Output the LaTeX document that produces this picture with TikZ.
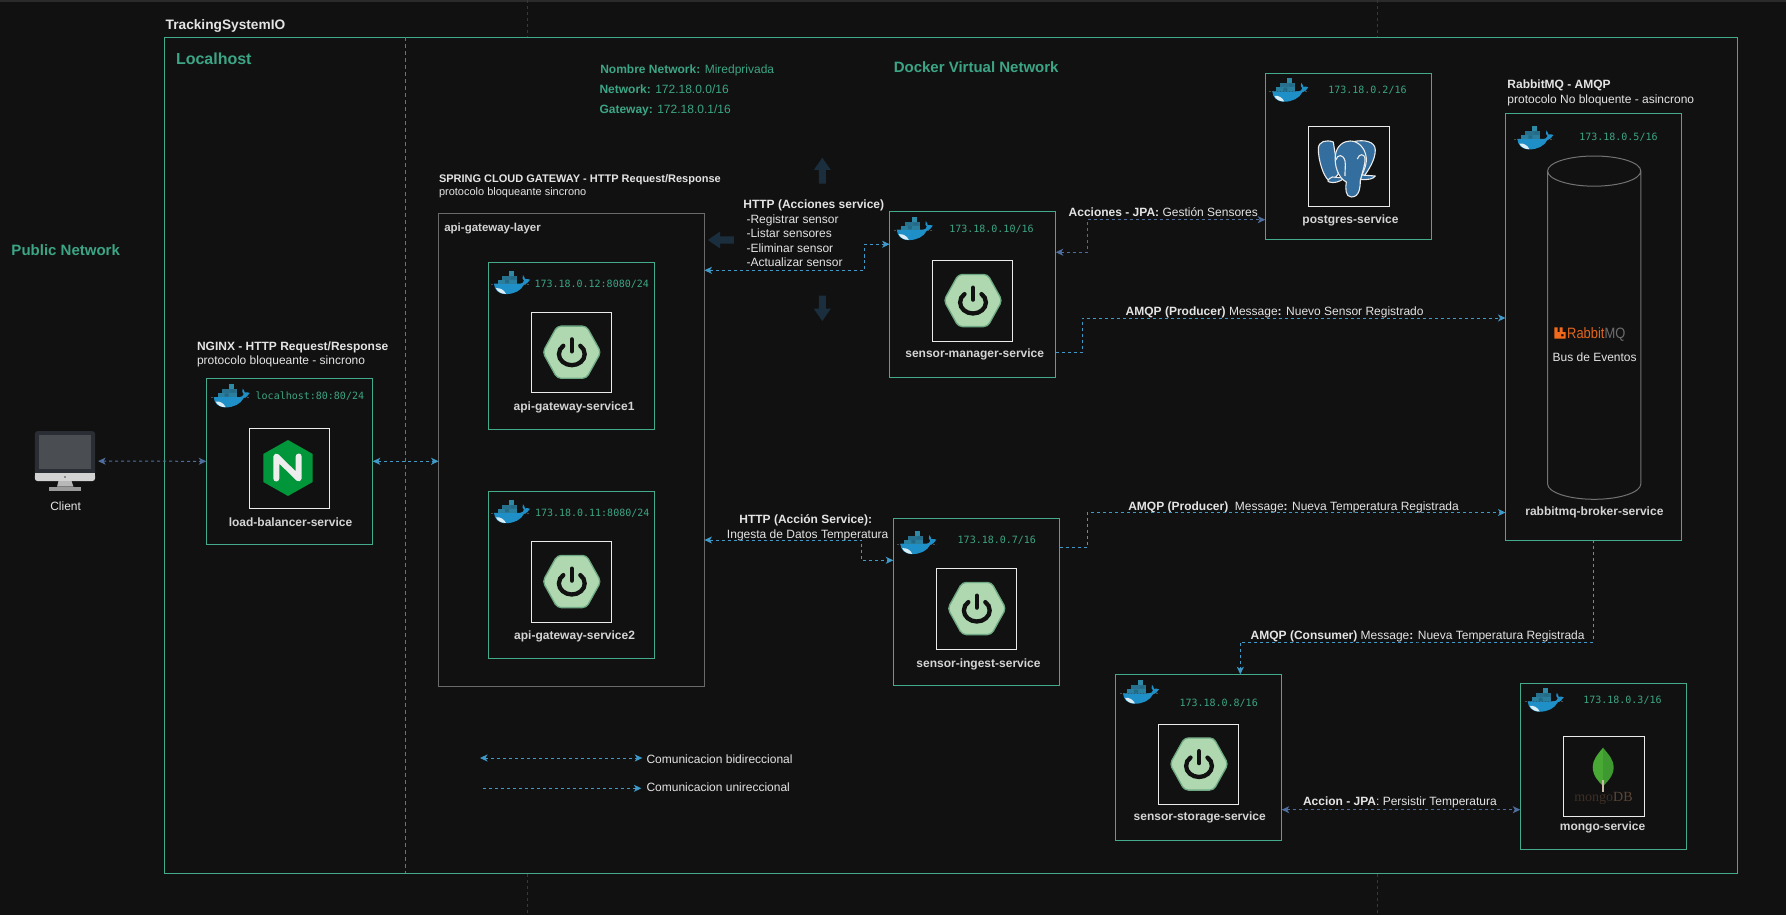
\documentclass[tikz,border=0pt]{standalone}
\usepackage{fontspec}
\setmainfont{Liberation Sans}
\newfontfamily\ipfont{DejaVu Sans Mono}
\newfontfamily\mgfont{Liberation Serif}
\usetikzlibrary{arrows.meta,calc}
\definecolor{bgc}{HTML}{111111}
\definecolor{grn}{HTML}{43AA8B}
\definecolor{grt}{HTML}{3CA585}
\definecolor{conn}{HTML}{3F9AC9}
\definecolor{slate}{HTML}{4F6E9E}
\definecolor{lblc}{HTML}{D4D4D4}
\definecolor{txtc}{HTML}{E4E4E4}
\definecolor{navy}{HTML}{1B2E3D}
\definecolor{whl}{HTML}{1F8FC7}
\definecolor{sprf}{HTML}{AFD8B0}
\definecolor{sprd}{HTML}{6FA983}
\definecolor{splitc}{HTML}{5E8A2C}
\definecolor{pgb}{HTML}{336E9E}
\definecolor{layerc}{HTML}{6A6A6A}
\tikzset{
 x=1pt,y=-1pt,
 HTML/.code={\definecolor{tmpc}{HTML}{#1}\pgfkeysalso{color=tmpc}},
 svcbox/.style={draw=grn,line width=1pt,inner sep=0pt,outer sep=0pt},
 layerbox/.style={draw=layerc,line width=1pt,inner sep=0pt,outer sep=0pt},
 iconbox/.style={draw=white!92!black,line width=1pt,inner sep=0pt,outer sep=0pt},
 tnode/.style={inner sep=0pt,outer sep=0pt,text height=8.6pt,text depth=0pt,anchor=west},
 t12/.style={tnode,text=txtc,font=\fontsize{12}{14}\selectfont},
 t11/.style={tnode,text=txtc,text height=8pt,font=\fontsize{11}{13}\selectfont},
 tc12/.style={t12,anchor=center},
 svclabel/.style={tnode,anchor=center,text=lblc,font=\bfseries\fontsize{12}{14}\selectfont},
 netlabel/.style={tnode,text=grt,text height=10.8pt,font=\bfseries\fontsize{15}{18}\selectfont},
 nettext/.style={t12,text=grt},
 ip/.style={tnode,text=grt,text height=7.6pt,font=\ipfont\fontsize{10}{12}\selectfont},
 link/.style={draw=conn,line width=1pt,dash pattern=on 3pt off 3pt},
 slink/.style={link,draw=slate},
 both/.style={{Stealth[length=7.5pt,width=7pt,inset=2pt]}-{Stealth[length=7.5pt,width=7pt,inset=2pt]}},
 one/.style={-{Stealth[length=7.5pt,width=7pt,inset=2pt]}},
 guide/.style={draw=white!22!black,line width=.8pt,dash pattern=on 3pt off 3pt},
 fadearrow/.style={fill=navy},
}
\newcommand{\bx}[6]{%
 \pgfmathsetmacro\bxw{#5-#3}\pgfmathsetmacro\bxh{#6-#4}%
 \pgfmathsetmacro\bxcx{(#3+#5)/2}\pgfmathsetmacro\bxcy{(#4+#6)/2}%
 \node[#2,minimum width=\bxw pt,minimum height=\bxh pt] (#1) at (\bxcx,\bxcy) {};}
\newcommand{\whale}[2]{%
 \begin{scope}[shift={(#1,#2)}]
  \draw[line width=.4pt,draw=white!30!black,dash pattern=on 2pt off 1pt] (0,13) -- (39,13);
  \fill[whl] (3,13) -- (29,13) .. controls (31,13) and (32.5,12) .. (33,10)
    .. controls (31.5,9) and (31,7) .. (32,4.5) .. controls (33,5.5) and (33.7,7) .. (34,8.5)
    .. controls (36,8) and (37.5,8.5) .. (39,9) .. controls (37.5,12) and (35,13.5) .. (33,14)
    .. controls (30,20) and (23,23.4) .. (15,23.4) .. controls (7,23.4) and (3.5,19) .. (3,13) -- cycle;
  \fill[white!85!whl] (5,17.5) .. controls (9,17) and (13,19) .. (15,23.2) .. controls (10,23.2) and (6.5,21) .. (5,17.5) -- cycle;
  \fill[HTML=2A7F9E] (7,9) rectangle (26,13);
  \fill[HTML=27708E] (11,5) rectangle (26,8.8);
  \fill[HTML=2F8AA8] (18,0) rectangle (23,4.8);
  \fill[HTML=236A86] (14,9.4) rectangle (18,12.6) (20,5.6) rectangle (24,8.4);
 \end{scope}}
\newcommand{\spring}[2]{%
 \begin{scope}[shift={(#1,#2)}]
  \filldraw[fill=sprf,draw=sprd,line width=1.3pt,rounded corners=4pt]
    (-29.1,0) -- (-14.6,-26.1) -- (14.6,-26.1) -- (29.1,0) -- (14.6,26.1) -- (-14.6,26.1) -- cycle;
  \draw[bgc,line width=4.6pt,line cap=round] (0,-12.7) -- (0,-1);
  \draw[bgc,line width=4.3pt,line cap=round] (8.5,-6.4) .. controls (11.3,-4.5) and (12.9,-1.5) .. (12.9,2)
     .. controls (12.9,8) and (7,13) .. (0,13) .. controls (-7,13) and (-12.9,8) .. (-12.9,2)
     .. controls (-12.9,-1.5) and (-11.3,-4.5) .. (-8.5,-6.4);
 \end{scope}}
\begin{document}
\begin{tikzpicture}
\useasboundingbox (0,0) rectangle (1786,915);
\fill[bgc] (0,0) rectangle (1786,915);
\fill[white!17!black] (0,0) rectangle (1786,2.4);
% faint guides
\draw[guide] (527.5,0) -- (527.5,37);
\draw[guide] (527.5,874) -- (527.5,915);
\draw[guide] (1377.5,0) -- (1377.5,37);
\draw[guide] (1377.5,874) -- (1377.5,915);
% frames
\bx{outer}{svcbox}{164.5}{37.5}{1737.8}{873.3}
\coordinate (splitT) at (405.6,37.5);
\coordinate (splitB) at (405.6,873.3);
\draw[draw=splitc,line width=1pt,dash pattern=on 4pt off 3pt] (splitT) -- (splitB);
\node[tnode,text=txtc,text height=9.9pt,font=\bfseries\fontsize{13.7}{16}\selectfont] (title) at (165.7,25) {TrackingSystemIO};
\node[netlabel,text height=11.5pt,font=\bfseries\fontsize{16}{18}\selectfont] (localhost) at (176,59) {Localhost};
\node[netlabel] (public) at (11.5,250) {Public Network};
\node[netlabel] (dockernet) at (893.8,66.7) {Docker Virtual Network};
\node[nettext] (netname) at (600.3,69.3) {\textbf{Nombre Network:} Miredprivada};
\node[nettext] (netaddr) at (599.5,89.7) {\textbf{Network:} 172.18.0.0/16};
\node[nettext] (netgw) at (599.5,109.7) {\textbf{Gateway:} 172.18.0.1/16};
% client
\node[inner sep=0pt,outer sep=0pt,minimum width=60.1pt,minimum height=59.8pt] (client) at (65,461.1) {};
\fill[HTML=2A2D33,rounded corners=2.5pt] (34.9,431.2) rectangle (95,476);
\fill[HTML=4A4D52] (39,435) rectangle (90.9,469);
\fill[HTML=D2D2D2,rounded corners=2.5pt] (34.9,473) rectangle (95,481);
\fill[HTML=D2D2D2] (34.9,473) rectangle (95,477);
\fill[HTML=8A8A8A] (64.4,476.2) rectangle (65.9,477.7);
\fill[HTML=B8B8B8] (58.5,481) -- (71.5,481) -- (73.5,486.7) -- (57,486.7) -- cycle;
\fill[HTML=9A9A9A] (49,486.7) rectangle (80.8,491);
\node[tc12] (clientlbl) at (65.6,505.8) {Client};
% load balancer
\node[t12] (nginxt1) at (197,345.7) {\textbf{NGINX - HTTP Request/Response}};
\node[t12] (nginxt2) at (197,360) {protocolo bloqueante - sincrono};
\bx{lb}{svcbox}{206.3}{378.3}{372.7}{544.3}
\whale{210.7}{384}
\node[ip] (lbip) at (255.7,396) {localhost:80:80/24};
\bx{lbicon}{iconbox}{249.3}{428.3}{329.3}{508.3}
\fill[HTML=009639] (288,440) -- (312.7,454) -- (312.7,482) -- (288,496) -- (263.3,482) -- (263.3,454) -- cycle;
\draw[white!93!black,line width=6pt,line cap=round,line join=round] (276.3,478.5) -- (276.3,456.5) -- (298.7,478.5) -- (298.7,456.5);
\node[svclabel] (lblbl) at (290.5,521.7) {load-balancer-service};
% gateway layer
\node[t11] (gwt1) at (439,178.3) {\textbf{SPRING CLOUD GATEWAY - HTTP Request/Response}};
\node[t11] (gwt2) at (439,191.7) {protocolo bloqueante sincrono};
\bx{gw}{layerbox}{438.6}{213.3}{704.4}{686.7}
\node[tnode,text=lblc,text height=8.3pt,font=\bfseries\fontsize{11.5}{14}\selectfont] (gwlbl) at (444.3,227) {api-gateway-layer};
\bx{gw1}{svcbox}{488.5}{262.7}{654.8}{429}
\whale{491}{270.7}
\node[ip] (gw1ip) at (534.5,283.3) {173.18.0.12:8080/24};
\bx{gw1icon}{iconbox}{531.6}{312.7}{611.8}{392.7}
\spring{571.8}{352.2}
\node[svclabel] (gw1lbl) at (574.1,406) {api-gateway-service1};
\bx{gw2}{svcbox}{488.5}{491.7}{654.8}{658}
\whale{491}{499.8}
\node[ip] (gw2ip) at (535,512.2) {173.18.0.11:8080/24};
\bx{gw2icon}{iconbox}{531.4}{541.6}{611.6}{622}
\spring{571.8}{581.5}
\node[svclabel] (gw2lbl) at (574.6,635) {api-gateway-service2};
% faded arrows
\fill[fadearrow] (822.3,157.7) -- (830.8,170) -- (825.8,170) -- (825.8,183.7) -- (818.8,183.7) -- (818.8,170) -- (813.8,170) -- cycle;
\fill[fadearrow] (822.3,321) -- (830.8,308.7) -- (825.8,308.7) -- (825.8,295.7) -- (818.8,295.7) -- (818.8,308.7) -- (813.8,308.7) -- cycle;
\fill[fadearrow] (707.8,240) -- (720,231.6) -- (720,236.4) -- (733.8,236.4) -- (733.8,243.6) -- (720,243.6) -- (720,248.4) -- cycle;
% manager
\node[t12] (httpa) at (743.4,203.7) {\textbf{HTTP (Acciones service)}};
\node[t12] (httpa1) at (746.5,219) {-Registrar sensor};
\node[t12] (httpa2) at (746.5,232.7) {-Listar sensores};
\node[t12] (httpa3) at (746.5,247.7) {-Eliminar sensor};
\node[t12] (httpa4) at (746.5,262) {-Actualizar sensor};
\bx{mgr}{svcbox}{889.6}{211}{1055.7}{377.3}
\whale{893.8}{216.7}
\node[ip] (mgrip) at (949.3,228.3) {173.18.0.10/16};
\bx{mgricon}{iconbox}{932.5}{260.7}{1012.8}{341}
\spring{973}{300.5}
\node[svclabel] (mgrlbl) at (974.7,353) {sensor-manager-service};
% postgres
\bx{pg}{svcbox}{1265.3}{73.3}{1431.7}{239.7}
\whale{1269.3}{78.3}
\node[ip] (pgip) at (1328.3,90) {173.18.0.2/16};
\bx{pgicon}{iconbox}{1308.7}{126.7}{1389.3}{206.3}
\begin{scope}[shift={(1318.3,140)}]
 \begin{scope}[fill=pgb,draw=white!92!black,line width=1.1pt,line join=round]
 \filldraw (15,2) .. controls (8,-0.5) and (0,1) .. (0,9) .. controls (0,20) and (5,36) .. (10,40) .. controls (13,42) and (17,38) .. (20,34) -- cycle;
 \filldraw (36,1.5) .. controls (45,-0.5) and (57,1) .. (57,10) .. controls (57,20) and (50,30) .. (46,36) -- (38,30) -- cycle;
 \filldraw (14,37) .. controls (10,39) and (8,41) .. (11,42) .. controls (15,43.5) and (22,42) .. (26,38) -- cycle;
 \filldraw (43,35) -- (57,36) .. controls (55,39) and (50,40) .. (42,39.5) -- cycle;
 \filldraw (17,16) .. controls (18,5) and (26,1) .. (32,1) .. controls (40,1) and (47,8) .. (48,18)
   .. controls (48.5,28) and (43,34) .. (42,40) .. controls (42,48) and (41,57) .. (33,57)
   .. controls (27,57) and (27,48) .. (28,42) .. controls (20,38) and (16,26) .. (17,16) -- cycle;
 \draw (17.5,20) .. controls (19,14) and (25,14) .. (26.7,21) .. controls (27.5,26) and (26.5,31) .. (26.7,36);
 \draw (39,19) .. controls (41,13) and (46,14) .. (46.7,18) .. controls (47,25) and (44.5,30) .. (43.5,35);
 \end{scope}
\end{scope}
\node[svclabel] (pglbl) at (1350.5,219.3) {postgres-service};
\node[t12] (jpa1) at (1068.7,211.7) {\textbf{Acciones - JPA:} Gestión Sensores};
\node[t12] (amqp1) at (1125.7,311) {\textbf{AMQP (Producer)} Message\textbf{:} Nuevo Sensor Registrado};
% rabbit
\node[t12] (rb1) at (1507.4,84.3) {\textbf{RabbitMQ - AMQP}};
\node[t12] (rb2) at (1507.4,99) {protocolo No bloquente - asincrono};
\bx{rabbit}{svcbox}{1505.5}{113.3}{1681.7}{540.3}
\whale{1514.4}{126}
\node[ip] (rbip) at (1579.3,136.3) {173.18.0.5/16};
\draw[draw=white!45!black,line width=1pt] (1547.6,171) .. controls (1547.6,179.3) and (1568.5,186.2) .. (1594.2,186.2) .. controls (1619.9,186.2) and (1640.8,179.3) .. (1640.8,171)
  .. controls (1640.8,162.7) and (1619.9,156) .. (1594.2,156) .. controls (1568.5,156) and (1547.6,162.7) .. (1547.6,171) -- (1547.6,484)
  .. controls (1547.6,492.3) and (1568.5,499.3) .. (1594.2,499.3) .. controls (1619.9,499.3) and (1640.8,492.3) .. (1640.8,484) -- (1640.8,171);
\fill[HTML=F26B1D,even odd rule] (1554.3,327.3) -- (1557.5,327.3) -- (1557.5,332) -- (1559.6,332) -- (1559.6,327.3) -- (1562.6,327.3) -- (1562.6,332) -- (1565.7,332) -- (1565.7,338.7) -- (1554.3,338.7) -- cycle (1561.2,334) rectangle (1563.6,336.4);
\node[inner sep=0pt,outer sep=0pt,anchor=west,text height=10.6pt,text depth=0pt,font=\fontsize{15}{16}\selectfont] (rblogo) at (1567.2,333.2) {\scalebox{.86}[1]{\textcolor[HTML]{E0661F}{Rabbit}\textcolor[HTML]{6E6E6E}{MQ}}};
\node[tc12] (bus) at (1594.6,356.7) {Bus de Eventos};
\node[svclabel] (rblbl) at (1594.4,511) {rabbitmq-broker-service};
% ingest
\node[t12,anchor=center] (httpb1) at (805.7,518.7) {\textbf{HTTP (Acción Service):}};
\node[tc12] (httpb2) at (807.7,534) {Ingesta de Datos Temperatura};
\bx{ing}{svcbox}{893.3}{518.7}{1059.7}{685.3}
\whale{897.3}{530.7}
\node[ip] (ingip) at (957.7,540) {173.18.0.7/16};
\bx{ingicon}{iconbox}{936.3}{568.7}{1016.7}{649.3}
\spring{976.8}{608.5}
\node[svclabel] (inglbl) at (978.5,663) {sensor-ingest-service};
\node[t12] (amqp2) at (1128.3,505.7) {\textbf{AMQP (Producer)}\ \ Message\textbf{:} Nueva Temperatura Registrada};
% storage
\node[t12] (amqp3) at (1250.7,634.7) {\textbf{AMQP (Consumer)} Message\textbf{:} Nueva Temperatura Registrada};
\bx{store}{svcbox}{1115.3}{674.3}{1281.7}{840.7}
\whale{1120}{680.3}
\node[ip] (storeip) at (1179.5,702.3) {173.18.0.8/16};
\bx{storeicon}{iconbox}{1158.3}{724.3}{1238.8}{804.7}
\spring{1199}{764}
\node[svclabel] (storelbl) at (1199.7,816) {sensor-storage-service};
% mongo
\bx{mongo}{svcbox}{1520.3}{683.3}{1686.7}{849.3}
\whale{1524.7}{688.3}
\node[ip] (mongoip) at (1583.3,700) {173.18.0.3/16};
\bx{mongoicon}{iconbox}{1563.7}{736.3}{1644.3}{816.3}
\fill[HTML=49A935] (1603,747.7) .. controls (1597,755) and (1592.7,760) .. (1592.7,767) .. controls (1592.7,776) and (1599,782) .. (1603,786) -- cycle;
\fill[HTML=3E9A30] (1603,747.7) .. controls (1609,755) and (1613.7,760) .. (1613.7,767) .. controls (1613.7,776) and (1607,782) .. (1603,786) -- cycle;
\draw[HTML=C9BBA4,line width=1.2pt] (1603,780) -- (1603,791.7);
\node[inner sep=0pt,outer sep=0pt,anchor=west,text height=9pt,text depth=0pt,font=\mgfont\fontsize{14}{16}\selectfont] (mongotxt) at (1574.3,797) {\textcolor[HTML]{3E2F26}{mongo}\textcolor[HTML]{5B4636}{DB}};
\node[svclabel] (mongolbl) at (1602.5,826) {mongo-service};
\node[t12] (jpa2) at (1303,800.7) {\textbf{Accion - JPA}: Persistir Temperatura};
% legend
\coordinate (l1a) at (480,758);
\coordinate (l1b) at (642.3,758);
\coordinate (l2a) at (483,788.3);
\coordinate (l2b) at (641.4,788.3);
\draw[link,both] (l1a) -- (l1b);
\draw[link,one] (l2a) -- (l2b);
\node[t12] (leg1) at (646.5,759) {Comunicacion bidireccional};
\node[t12] (leg2) at (646.5,787) {Comunicacion unireccional};
% connectors
\draw[slink,both,shorten <=3pt] (client.east) -- (lb.west);
\draw[link,both] (lb.east) -- (lb.east -| gw.west);
\coordinate (m1) at (864.3,257);
\draw[link,both] ([yshift=179.7pt]gw.east) -| (m1) |- ([yshift=49.9pt]mgr.west);
\coordinate (m2) at (1087.8,236);
\draw[slink,both] ([yshift=41.9pt]mgr.east) -| (m2) |- ([yshift=-63.2pt]pg.west);
\coordinate (m3) at (1082.5,335);
\draw[link,one] ([yshift=-58.5pt]mgr.east) -| (m3) |- ([yshift=8.8pt]rabbit.west);
\coordinate (m4) at (861.7,550);
\draw[link,both] ([yshift=-90pt]gw.east) -| (m4) |- ([yshift=41.7pt]ing.west);
\coordinate (m5) at (1087.3,530);
\draw[link,one] ([yshift=54.7pt]ing.east) -| (m5) |- ([yshift=-185.7pt]rabbit.west);
\coordinate (m6) at (1417,642);
\draw[link,one] (rabbit.south) |- (m6) -| ([xshift=41.8pt]store.north);
\coordinate (s9) at ([yshift=-52.2pt]store.east);
\draw[slink,both] (s9) -- (s9 -| mongo.west);
\end{tikzpicture}
\end{document}
